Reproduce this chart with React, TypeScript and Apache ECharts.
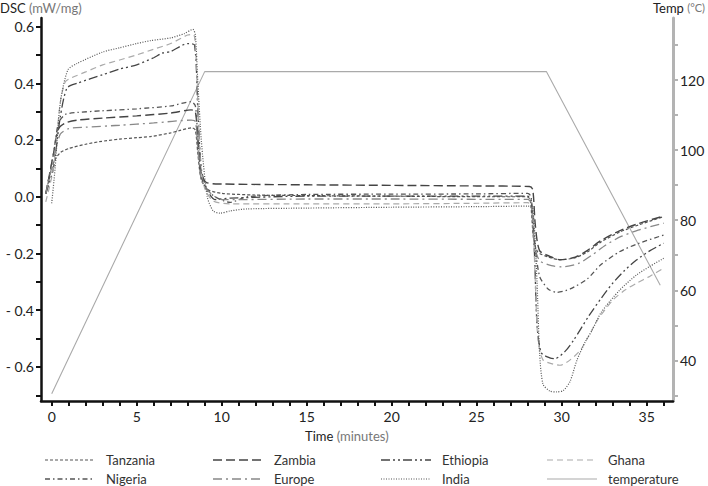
import React, { useEffect, useRef } from "react";
import * as echarts from "echarts";

// ---- data (time in minutes, DSC in mW/mg, temperature in °C) ----
const tanzania: [number, number][] = [
  [-0.35, 0.01], [0.1, 0.12], [0.5, 0.155], [1, 0.17], [2, 0.185], [2.8, 0.194], [4, 0.203], [5, 0.208], [5.8, 0.212], [7, 0.225], [7.5, 0.233], [8.25, 0.243], [8.45, 0.235], [8.6, 0.15], [8.8, 0.06], [9.2, 0.025], [10, 0.012], [12, 0.006], [15, 0.004], [20, 0.002], [25, 0.0], [27.95, 0.0], [28.15, -0.01], [28.35, -0.15], [28.6, -0.195], [29.2, -0.212], [29.9, -0.222], [30.8, -0.215], [31.5, -0.195], [32.3, -0.16], [33.4, -0.125], [34.5, -0.1], [36, -0.07],
];
const zambia: [number, number][] = [
  [-0.35, 0.01], [0.1, 0.15], [0.4, 0.24], [0.8, 0.26], [1.5, 0.27], [3, 0.277], [5, 0.285], [7, 0.295], [8.2, 0.306], [8.45, 0.3], [8.6, 0.2], [8.8, 0.08], [9.1, 0.05], [10, 0.045], [15, 0.042], [20, 0.04], [25, 0.038], [28.1, 0.036], [28.3, 0.025], [28.45, -0.1], [28.7, -0.19], [29.3, -0.21], [29.9, -0.222], [30.8, -0.213], [31.5, -0.19], [32.3, -0.155], [33.4, -0.12], [34.5, -0.095], [36, -0.068],
];
const ethiopia: [number, number][] = [
  [-0.35, 0.01], [0.1, 0.1], [0.5, 0.28], [0.9, 0.383], [1.5, 0.4], [3, 0.43], [4, 0.45], [5, 0.465], [6, 0.49], [6.5, 0.506], [7, 0.512], [8, 0.54], [8.4, 0.535], [8.6, 0.3], [8.8, 0.1], [9.1, 0.03], [9.6, -0.01], [10.5, -0.005], [15, 0.002], [20, 0.002], [25, 0.002], [28, 0.002], [28.2, -0.01], [28.4, -0.2], [28.55, -0.45], [28.8, -0.55], [29.3, -0.568], [29.6, -0.571], [30.2, -0.545], [30.7, -0.506], [31.6, -0.42], [32.3, -0.36], [33, -0.305], [33.7, -0.26], [34.4, -0.223], [35.2, -0.19], [36, -0.164],
];
const ghana: [number, number][] = [
  [-0.35, -0.018], [0.1, 0.1], [0.5, 0.33], [0.8, 0.405], [1.2, 0.42], [2, 0.44], [3, 0.465], [4, 0.482], [5, 0.5], [6, 0.52], [7, 0.54], [8, 0.57], [8.35, 0.572], [8.55, 0.4], [8.75, 0.12], [9.0, 0.03], [9.5, -0.015], [10.5, -0.025], [15, -0.025], [20, -0.025], [25, -0.023], [28, -0.021], [28.25, -0.03], [28.45, -0.3], [28.6, -0.5], [28.9, -0.575], [29.5, -0.59], [29.9, -0.594], [30.5, -0.575], [31.1, -0.541], [31.6, -0.49], [32.1, -0.435], [33, -0.365], [33.7, -0.33], [34.4, -0.305], [35.2, -0.28], [36, -0.252],
];
const nigeria: [number, number][] = [
  [-0.35, 0.01], [0.1, 0.15], [0.4, 0.26], [0.8, 0.29], [1.5, 0.297], [3, 0.303], [5, 0.31], [7, 0.32], [8.2, 0.335], [8.45, 0.32], [8.6, 0.2], [8.8, 0.07], [9.1, 0.03], [9.6, 0.0], [10.5, -0.02], [11.5, 0.0], [15, 0.008], [20, 0.009], [25, 0.01], [28.0, 0.012], [28.2, 0.0], [28.4, -0.15], [28.7, -0.28], [29.2, -0.325], [29.7, -0.337], [30.5, -0.325], [31.5, -0.29], [32.3, -0.24], [33.4, -0.194], [34.5, -0.165], [36, -0.135],
];
const europe: [number, number][] = [
  [-0.35, 0.01], [0.1, 0.13], [0.5, 0.22], [1, 0.24], [2, 0.245], [4, 0.252], [6, 0.26], [8.2, 0.27], [8.45, 0.265], [8.6, 0.17], [8.8, 0.06], [9.2, 0.02], [10, -0.01], [11, -0.01], [15, -0.008], [20, -0.008], [25, -0.009], [28, -0.009], [28.2, -0.02], [28.4, -0.17], [28.7, -0.225], [29.4, -0.243], [30, -0.247], [31, -0.235], [31.8, -0.205], [32.6, -0.17], [33.5, -0.14], [34.5, -0.118], [36, -0.093],
];
const india: [number, number][] = [
  [0, -0.023], [0.2, 0.1], [0.5, 0.33], [0.95, 0.447], [1.5, 0.47], [3, 0.51], [4, 0.525], [5, 0.54], [5.8, 0.55], [7, 0.56], [7.8, 0.575], [8.3, 0.59], [8.45, 0.57], [8.6, 0.4], [8.8, 0.2], [9.15, 0.0], [9.5, -0.05], [9.9, -0.058], [10.5, -0.05], [11.5, -0.043], [15, -0.04], [20, -0.037], [25, -0.035], [28, -0.033], [28.3, -0.04], [28.55, -0.3], [28.7, -0.55], [28.9, -0.66], [29.3, -0.685], [29.7, -0.688], [30.1, -0.683], [30.5, -0.65], [30.9, -0.576], [31.4, -0.51], [31.8, -0.47], [32.3, -0.41], [33.4, -0.33], [34.4, -0.276], [35.2, -0.245], [36, -0.217],
];
const temperature: [number, number][] = [
  [0, 30.5], [9.0, 122.4], [29.1, 122.4], [35.8, 61.4],
];

const seriesNames = ["Tanzania", "Zambia", "Ethiopia", "Ghana", "Nigeria", "Europe", "India", "temperature"];
const timeTicks = [0, 1, 2, 3, 4, 5, 6, 7, 8, 9, 10, 11, 12, 13, 14, 15, 16, 17, 18, 19, 20, 21, 22, 23, 24, 25, 26, 27, 28, 29, 30, 31, 32, 33, 34, 35, 36];
const timeLabels = [0, 5, 10, 15, 20, 25, 30, 35];
const dscTicks = [-0.7, -0.6, -0.5, -0.4, -0.3, -0.2, -0.1, 0, 0.1, 0.2, 0.3, 0.4, 0.5, 0.6];
const dscLabels = [-0.6, -0.4, -0.2, 0, 0.2, 0.4, 0.6];
const tempTicks = [30, 40, 50, 60, 70, 80, 90, 100, 110, 120, 130];
const tempLabels = [40, 60, 80, 100, 120];

const FONT = "Lato, 'Open Sans', sans-serif";

export default function App() {
  const ref = useRef<HTMLDivElement>(null);
  useEffect(() => {
    if (!ref.current) return;
    const chart = echarts.init(ref.current, undefined, { renderer: "svg" });

    const styles: Record<string, { color: string; type: any; width: number }> = {
      Tanzania: { color: "#555", type: [3, 2], width: 1.2 },
      Zambia: { color: "#444", type: [9, 4], width: 1.4 },
      Ethiopia: { color: "#444", type: [9, 3, 2, 3, 2, 3], width: 1.3 },
      Ghana: { color: "#aaa", type: [6, 4], width: 1.2 },
      Nigeria: { color: "#555", type: [5, 3, 1.5, 3], width: 1.3 },
      Europe: { color: "#888", type: [9, 4, 2, 4], width: 1.3 },
      India: { color: "#555", type: [1, 1.5], width: 1.2 },
      temperature: { color: "#aaa", type: "solid", width: 1.1 },
    };
    const dataMap: Record<string, [number, number][]> = {
      Tanzania: tanzania, Zambia: zambia, Ethiopia: ethiopia, Ghana: ghana,
      Nigeria: nigeria, Europe: europe, India: india, temperature: temperature,
    };

    const colX = [45, 213, 381, 547];
    const rowY = [460, 479];
    const legendGraphics: any[] = [];
    seriesNames.forEach((n, i) => {
      const x0 = colX[i % 4];
      const y = rowY[Math.floor(i / 4)];
      const st = styles[n];
      legendGraphics.push({
        type: "line",
        shape: { x1: x0, y1: y, x2: x0 + 50, y2: y },
        style: {
          stroke: st.color,
          lineWidth: st.width,
          lineDash: Array.isArray(st.type) ? st.type : null,
        },
      });
      legendGraphics.push({
        type: "text",
        x: x0 + 61,
        y: y,
        style: {
          text: n,
          fill: "#333",
          fontSize: 13,
          fontFamily: FONT,
          verticalAlign: "middle",
          align: "left",
        },
      });
    });

    chart.setOption({
      animation: false,
      textStyle: { fontFamily: FONT },
      grid: { left: 41, right: 35, top: 18, bottom: 85, containLabel: false },
      xAxis: {
        type: "value",
        min: -0.63,
        max: 36.55,
        splitLine: { show: false },
        axisLine: { onZero: false, lineStyle: { color: "#111", width: 2.5 } },
        axisTick: { customValues: timeTicks, length: 5, lineStyle: { color: "#111", width: 2 } },
        axisLabel: { customValues: timeLabels, fontSize: 14, color: "#222", margin: 8, fontFamily: FONT },
      },
      yAxis: [
        {
          type: "value",
          position: "left",
          min: -0.72,
          max: 0.63,
          splitLine: { show: false },
          axisLine: { show: true, onZero: false, lineStyle: { color: "#111", width: 2.5 } },
          axisTick: { show: true, customValues: dscTicks, length: 5, lineStyle: { color: "#111", width: 2 } },
          axisLabel: {
            customValues: dscLabels,
            fontSize: 14,
            color: "#222",
            margin: 7,
            fontFamily: FONT,
            formatter: (v: number) => (v < -0.001 ? "- " + Math.abs(v).toFixed(1) : Math.abs(v).toFixed(1)),
          },
        },
        {
          type: "value",
          position: "right",
          min: 28.4,
          max: 137.7,
          splitLine: { show: false },
          axisLine: { show: true, onZero: false, lineStyle: { color: "#b3b3b3", width: 3 } },
          axisTick: { show: true, customValues: tempTicks, length: 5, lineStyle: { color: "#b3b3b3", width: 2 } },
          axisLabel: { customValues: tempLabels, fontSize: 14, color: "#222", margin: 7, fontFamily: FONT },
        },
      ],
      graphic: [
        {
          type: "text",
          left: 0,
          top: 1,
          style: {
            text: "{a|DSC} {b|(mW/mg)}",
            rich: {
              a: { fontSize: 13, fill: "#222", fontFamily: FONT },
              b: { fontSize: 13, fill: "#777", fontFamily: FONT },
            },
          },
        },
        {
          type: "text",
          right: 3,
          top: 1,
          style: {
            text: "{a|Temp} {b|(°C)}",
            rich: {
              a: { fontSize: 13, fill: "#222", fontFamily: FONT },
              b: { fontSize: 11, fill: "#777", fontFamily: FONT },
            },
          },
        },
        {
          type: "text",
          left: 305,
          top: 429,
          style: {
            text: "{a|Time} {b|(minutes)}",
            rich: {
              a: { fontSize: 13, fill: "#222", fontFamily: FONT },
              b: { fontSize: 13, fill: "#777", fontFamily: FONT },
            },
          },
        },
        ...legendGraphics,
      ],
      series: seriesNames.map((n) => ({
        name: n,
        type: "line",
        yAxisIndex: n === "temperature" ? 1 : 0,
        data: dataMap[n],
        showSymbol: false,
        symbol: "none",
        smooth: n === "temperature" ? false : 0.25,
        lineStyle: styles[n],
        itemStyle: { color: styles[n].color },
        z: n === "temperature" ? 1 : 2,
      })),
    });
    return () => chart.dispose();
  }, []);
  return <div ref={ref} style={{ width: 708, height: 486, position: "absolute", left: 0, top: 0 }} />;
}
